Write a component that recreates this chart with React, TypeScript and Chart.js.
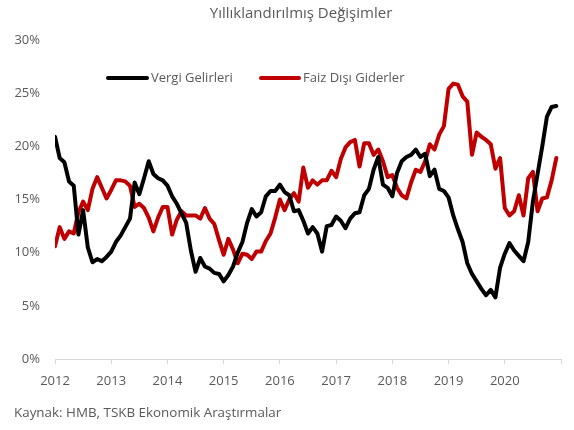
import React, { useEffect, useRef } from 'react';
import { Chart, registerables } from 'chart.js';

Chart.register(...registerables);

// ---- Data (monthly, Jan 2012 .. Dec 2020) ----
const years = ['2012', '2013', '2014', '2015', '2016', '2017', '2018', '2019', '2020'];
const yTickValues = [0, 5, 10, 15, 20, 25, 30];
const seriesNames = ['Vergi Gelirleri', 'Faiz Dışı Giderler'];
const seriesColors = ['#000000', '#C00000'];
const chartTitle = 'Yıllıklandırılmış Değişimler';
const sourceNote = 'Kaynak: HMB, TSKB Ekonomik Araştırmalar';

const vergiGelirleri = [
  20.9, 18.9, 18.5, 16.7, 16.3, 11.7, 14.0, 10.5, 9.1, 9.4, 9.2, 9.6,
  10.1, 11.0, 11.6, 12.4, 13.2, 16.6, 15.5, 17.0, 18.6, 17.4, 17.0, 16.8,
  16.3, 15.3, 14.6, 13.7, 12.8, 10.2, 8.2, 9.5, 8.7, 8.5, 8.1, 8.0,
  7.3, 7.9, 8.7, 10.0, 11.0, 12.8, 14.1, 13.4, 13.8, 15.3, 15.8, 15.8,
  16.4, 15.7, 15.4, 13.9, 14.0, 13.0, 11.8, 12.4, 11.8, 10.1, 12.5, 12.6,
  13.4, 13.0, 12.3, 13.2, 13.7, 13.8, 15.4, 16.0, 17.8, 19.0, 16.4, 16.1,
  15.3, 17.5, 18.6, 19.0, 19.2, 19.7, 19.0, 19.3, 17.2, 17.8, 16.0, 15.8,
  15.2, 13.5, 12.2, 11.0, 9.0, 8.0, 7.3, 6.6, 6.0, 6.5, 5.8, 8.6,
  9.9, 10.9, 10.2, 9.7, 9.2, 11.0, 14.8, 17.4, 20.0, 22.8, 23.7, 23.8,
];

const faizDisiGiderler = [
  10.6, 12.4, 11.3, 12.0, 11.8, 13.8, 14.8, 14.0, 16.0, 17.1, 16.1, 15.1,
  15.9, 16.8, 16.8, 16.7, 16.3, 14.3, 14.6, 14.2, 13.3, 12.0, 13.3, 14.3,
  14.3, 11.7, 13.1, 13.9, 13.5, 13.5, 13.5, 13.2, 14.2, 13.2, 12.7, 11.2,
  9.8, 11.3, 10.3, 9.0, 9.9, 9.8, 9.4, 10.1, 10.1, 11.1, 11.8, 13.3,
  15.0, 14.0, 15.0, 15.6, 14.8, 18.0, 16.1, 16.8, 16.4, 16.8, 16.8, 17.7,
  17.1, 18.8, 19.9, 20.4, 20.6, 18.1, 20.3, 20.3, 19.2, 19.7, 18.6, 17.1,
  17.3, 16.1, 15.4, 15.1, 16.6, 17.8, 17.6, 18.6, 20.2, 19.7, 21.1, 21.9,
  25.4, 25.9, 25.8, 24.7, 24.2, 19.2, 21.3, 20.9, 20.6, 20.2, 17.9, 18.9,
  14.2, 13.5, 13.9, 15.4, 13.5, 17.0, 17.6, 13.9, 15.1, 15.2, 16.8, 18.9,
];

const FONT = '"Open Sans", "Noto Sans", sans-serif';
const TEXT = '#595959';

const overlayPlugin = {
  id: 'overlayText',
  afterDraw(chart: any) {
    const ctx = chart.ctx as CanvasRenderingContext2D;
    ctx.save();
    ctx.fillStyle = TEXT;
    ctx.textBaseline = 'middle';
    // title
    ctx.font = `15px ${FONT}`;
    ctx.textAlign = 'center';
    ctx.fillText(chartTitle, 301, 14);
    // legend
    const legendSpots = [
      { x0: 108, x1: 147, tx: 151 },
      { x0: 261, x1: 299, tx: 303 },
    ];
    const ly = 78;
    ctx.font = `13px ${FONT}`;
    ctx.textAlign = 'left';
    chart.data.datasets.forEach((ds: any, i: number) => {
      const s = legendSpots[i];
      ctx.strokeStyle = ds.borderColor;
      ctx.lineWidth = 4;
      ctx.lineCap = 'round';
      ctx.beginPath();
      ctx.moveTo(s.x0, ly);
      ctx.lineTo(s.x1, ly);
      ctx.stroke();
      ctx.fillStyle = TEXT;
      ctx.fillText(ds.label, s.tx, ly);
    });
    // source
    ctx.font = `13.4px ${FONT}`;
    ctx.textAlign = 'left';
    ctx.fillText(sourceNote, 14, 413);
    ctx.restore();
  },
};

export default function App() {
  const ref = useRef<HTMLCanvasElement | null>(null);

  useEffect(() => {
    if (!ref.current) return;
    const series = [vergiGelirleri, faizDisiGiderler];
    const chart = new Chart(ref.current, {
      type: 'line',
      data: {
        datasets: series.map((vals, si) => ({
          label: seriesNames[si],
          data: vals.map((v, i) => ({ x: i, y: v })),
          borderColor: seriesColors[si],
          backgroundColor: seriesColors[si],
          borderWidth: 4,
          pointRadius: 0,
          tension: 0,
          borderJoinStyle: 'round' as const,
          borderCapStyle: 'round' as const,
        })),
      },
      options: {
        responsive: false,
        animation: false,
        layout: { padding: { left: 0, top: 40, right: 13, bottom: 0 } },
        plugins: {
          legend: { display: false },
          title: { display: false },
          tooltip: { enabled: false },
        },
        scales: {
          x: {
            type: 'linear',
            min: 0,
            max: years.length * 12,
            afterFit: (s: any) => { s.height = 71; },
            afterBuildTicks: (s: any) => {
              const t = [];
              for (let i = 0; i <= years.length; i++) t.push({ value: i * 12 });
              s.ticks = t;
            },
            ticks: {
              autoSkip: false,
              maxRotation: 0,
              padding: 9,
              color: TEXT,
              font: { family: FONT, size: 13 },
              callback: (v: any) => {
                const idx = Math.round(Number(v) / 12);
                return years[idx] ?? '';
              },
            },
            grid: {
              drawOnChartArea: false,
              drawTicks: true,
              tickLength: 5,
              color: '#D9D9D9',
            },
            border: { display: true, color: '#D9D9D9', width: 1 },
          },
          y: {
            min: 0,
            max: 30,
            afterFit: (s: any) => { s.width = 55; },
            afterBuildTicks: (s: any) => {
              s.ticks = yTickValues.map((v) => ({ value: v }));
            },
            ticks: {
              padding: 15,
              color: TEXT,
              font: { family: FONT, size: 13 },
              callback: (v: any) => `${v}%`,
            },
            grid: { display: false, drawTicks: false },
            border: { display: false },
          },
        },
      },
      plugins: [overlayPlugin],
    });
    return () => chart.destroy();
  }, []);

  return (
    <div style={{ position: 'absolute', left: 0, top: 0, width: 574, height: 430, background: '#fff' }}>
      <canvas ref={ref} width={574} height={430} style={{ width: 574, height: 430 }} />
    </div>
  );
}
